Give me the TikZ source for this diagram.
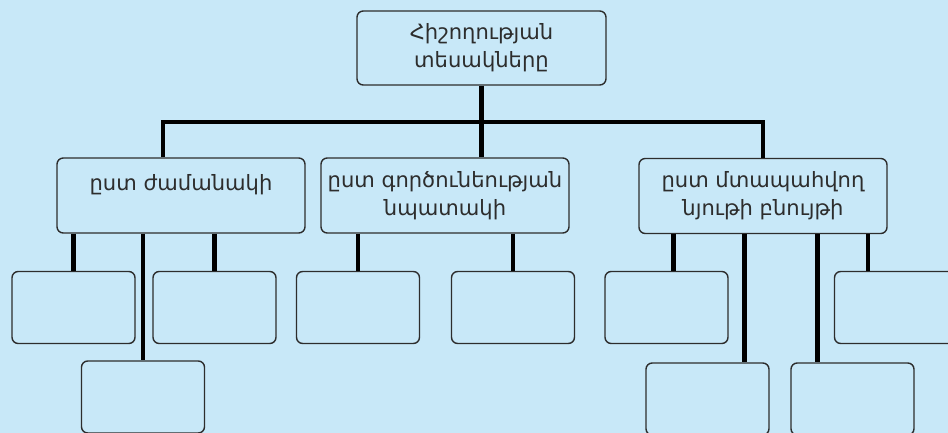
\documentclass[tikz,border=0pt]{standalone}
\usepackage{fontspec}
\newfontfamily\armfont{DejaVu Sans}
\usetikzlibrary{positioning,calc}
\definecolor{skyback}{RGB}{200,232,248}
\definecolor{edgegray}{RGB}{45,45,45}

\begin{document}
\begin{tikzpicture}[
    x=0.02cm, y=-0.02cm,
    box/.style={rectangle, draw=edgegray, line width=0.8pt, rounded corners=3.5pt, align=center, text=edgegray, font=\armfont\fontsize{12}{16}\selectfont, inner sep=2pt},
    head/.style={box, minimum width=4.98cm, minimum height=1.48cm},
    group/.style={box, minimum width=4.96cm, minimum height=1.5cm},
    leaf/.style={box, minimum width=2.46cm, minimum height=1.44cm},
    link/.style={line width=2.3pt, black}
]

% Frame and background
\useasboundingbox (0,0) rectangle (948,433);
\fill[skyback] (0,0) rectangle (948,433);
\clip (0,0) rectangle (948,433);

% Root
\node[head] (root) at (481.5,48) {Հիշողության\\տեսակները};

% Second level
\node[group, text depth=15pt] (byTime) at (181,195.5) {ըստ ժամանակի};
\node[group] (byGoal) at (445,195.5) {ըստ գործունեության\\նպատակի};
\node[group] (byNature) at (763,196) {ըստ մտապահվող\\նյութի բնույթի};

% Empty boxes under ''ըստ ժամանակի''
\node[leaf] (t1) at (73.5,307.5) {};
\node[leaf] (t2) at (214.5,307.5) {};
\node[leaf] (t3) at (143,397) {};

% Empty boxes under ''ըստ գործունեության նպատակի''
\node[leaf] (g1) at (358,307.5) {};
\node[leaf] (g2) at (513,307.5) {};

% Empty boxes under ''ըստ մտապահվող նյութի բնույթի''
\node[leaf] (n1) at (666.5,307.5) {};
\node[leaf] (n2) at (707.5,399) {};
\node[leaf] (n3) at (852.5,399) {};
\node[leaf] (n4) at (896,307.5) {};

% Bus from the root
\coordinate (busy) at (0,122);
\coordinate (timetop) at ($(byTime.north)+(-18,0)$);
\draw[link] (root.south) -- (root.south |- byGoal.north);
\draw[link] (timetop) |- (busy -| byNature.north) -- (byNature.north);

% Links to the empty boxes
\draw[link] (t1.north |- byTime.south) -- (t1.north);
\draw[link] (t2.north |- byTime.south) -- (t2.north);
\draw[link] (t3.north |- byTime.south) -- (t3.north);
\draw[link] (g1.north |- byGoal.south) -- (g1.north);
\draw[link] (g2.north |- byGoal.south) -- (g2.north);

\coordinate (n1top) at ($(n1.north)+(7,0)$);
\coordinate (n2top) at ($(n2.north)+(37,0)$);
\coordinate (n3top) at ($(n3.north)+(-35,0)$);
\coordinate (n4top) at ($(n4.north)+(-28,0)$);
\draw[link] (n1top |- byNature.south) -- (n1top);
\draw[link] (n2top |- byNature.south) -- (n2top);
\draw[link] (n3top |- byNature.south) -- (n3top);
\draw[link] (n4top |- byNature.south) -- (n4top);

\end{tikzpicture}
\end{document}
